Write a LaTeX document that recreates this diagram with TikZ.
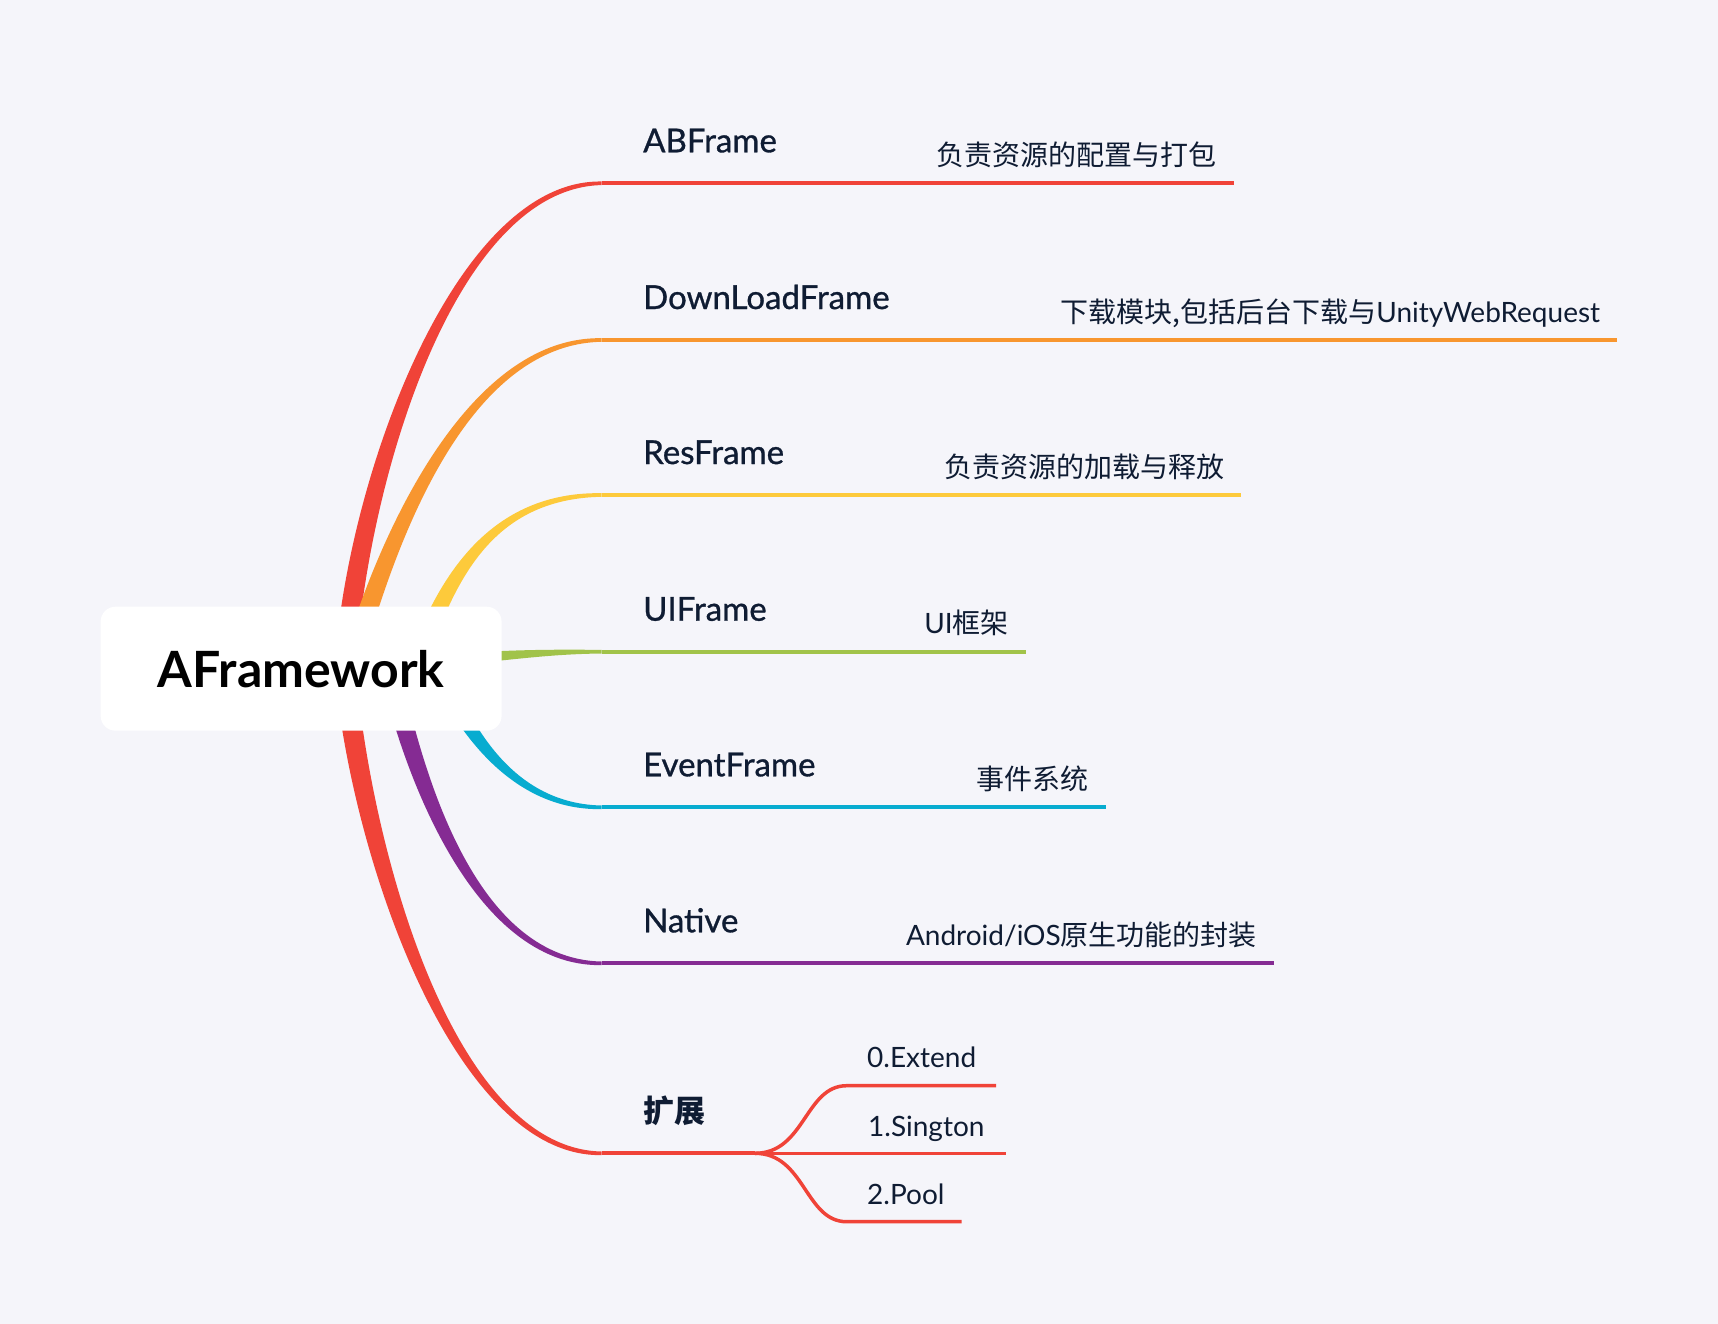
\documentclass[tikz,border=0pt]{standalone}
\usepackage{fontspec}
\setmainfont{Lato}
\newfontfamily\cjk{Noto Sans CJK SC}
\newfontfamily\titlefont[FakeBold=0.9]{Lato}
\usetikzlibrary{calc}
\definecolor{bgc}{HTML}{F5F5FA}
\definecolor{ink}{HTML}{0F1C33}
\definecolor{cred}{HTML}{F04338}
\definecolor{corange}{HTML}{F8962F}
\definecolor{cyellow}{HTML}{FDCA3B}
\definecolor{cgreen}{HTML}{A1C34A}
\definecolor{ccyan}{HTML}{07ACD0}
\definecolor{cpurple}{HTML}{852B93}
\pgfdeclarelayer{back}
\pgfdeclarelayer{branches}
\pgfsetlayers{back,branches,main}
% tapered branch: #1 colour, #2 start, #3 ctrl1, #4 ctrl2, #5 end,
% #6 half width at start, #7 half width near end control, #8 half width at end
\newcommand\taperbranch[8]{%
  \path ($(#2)!#6!90:(#3)$) coordinate (tSp)
        ($(#2)!#6!-90:(#3)$) coordinate (tSm)
        ($(#5)!#7!-90:(#4)$) coordinate (tCp)
        ($(#5)!#7!90:(#4)$) coordinate (tCm)
        ($(#5)!#8!-90:(#4)$) coordinate (tEp)
        ($(#5)!#8!90:(#4)$) coordinate (tEm);
  \fill[#1] (tSp) .. controls ($(#3)+(tSp)-(#2)$) and ($(#4)+(tCp)-(#5)$) .. (tEp)
    -- (tEm) .. controls ($(#4)+(tCm)-(#5)$) and ($(#3)+(tSm)-(#2)$) .. (tSm) -- cycle;
}
\tikzset{
  rootbox/.style={fill=white, rounded corners=15pt, minimum width=401pt, minimum height=124pt,
    inner sep=0pt, text=black, font=\fontsize{50}{60}\selectfont\bfseries},
  title/.style={anchor=base west, inner sep=0pt, text=ink, font=\fontsize{33}{38}\titlefont},
  desc/.style={anchor=base east, inner sep=0pt, text=ink, font=\fontsize{28}{34}\selectfont},
  subt/.style={anchor=base west, inner sep=0pt, text=ink, font=\fontsize{28}{32}\selectfont},
  hline/.style={line width=4pt},
  subline/.style={line width=3.5pt, cred},
}
\begin{document}
\begin{tikzpicture}[x=1pt,y=-1pt]
\begin{pgfonlayer}{back}
\fill[bgc] (0,0) rectangle (1718,1324);
\end{pgfonlayer}
\useasboundingbox (0,0) rectangle (1718,1324);

% root
\node[rootbox] (root) at (301.1,668.7) {AFramework};

% branch geometry
\coordinate (sAB) at (345,669);  \coordinate (aAB) at (357,480);  \coordinate (bAB) at (455,183.3);  \coordinate (eAB) at (601.7,183.3); \coordinate (lAB) at (1233.8,183.3);
\coordinate (sDL) at (350,669);  \coordinate (aDL) at (380,560);  \coordinate (bDL) at (460,340);    \coordinate (eDL) at (601.7,340);   \coordinate (lDL) at (1617.3,340);
\coordinate (sRS) at (415,669);  \coordinate (aRS) at (445,580);  \coordinate (bRS) at (490,495);    \coordinate (eRS) at (601.7,495);   \coordinate (lRS) at (1241.4,495);
\coordinate (sUI) at (420,662);  \coordinate (aUI) at (500,656);  \coordinate (bUI) at (540,651.7);  \coordinate (eUI) at (601.7,651.7); \coordinate (lUI) at (1026,651.7);
\coordinate (sEV) at (438,669);  \coordinate (aEV) at (455,705);  \coordinate (bEV) at (500,807.3);  \coordinate (eEV) at (601.7,807.3); \coordinate (lEV) at (1106,807.3);
\coordinate (sNA) at (390,669);  \coordinate (aNA) at (410,760);  \coordinate (bNA) at (470,963.3);  \coordinate (eNA) at (601.7,963.3); \coordinate (lNA) at (1274,963.3);
\coordinate (sKZ) at (345,669);  \coordinate (aKZ) at (362,858);  \coordinate (bKZ) at (455,1153.3); \coordinate (eKZ) at (601.7,1153.3);
\coordinate (xs) at (755,1153.3);
\coordinate (x0) at (846.7,1085.7); \coordinate (x0e) at (996,1085.7);
\coordinate (x1e) at (1006,1153.3);
\coordinate (x2) at (846.7,1221.7); \coordinate (x2e) at (961.7,1221.7);

\begin{pgfonlayer}{branches}
\taperbranch{cred}{sAB}{aAB}{bAB}{eAB}{10.5pt}{4.5pt}{1.8pt}
\taperbranch{corange}{sDL}{aDL}{bDL}{eDL}{10pt}{4.2pt}{1.8pt}
\taperbranch{cyellow}{sRS}{aRS}{bRS}{eRS}{9pt}{3.8pt}{1.8pt}
\taperbranch{cgreen}{sUI}{aUI}{bUI}{eUI}{6pt}{2.5pt}{1.8pt}
\taperbranch{ccyan}{sEV}{aEV}{bEV}{eEV}{9pt}{3.8pt}{1.8pt}
\taperbranch{cpurple}{sNA}{aNA}{bNA}{eNA}{10pt}{4.2pt}{1.8pt}
\taperbranch{cred}{sKZ}{aKZ}{bKZ}{eKZ}{10.5pt}{4.5pt}{1.8pt}
\draw[hline, cred] (eAB) -- (lAB);
\draw[hline, corange] (eDL) -- (lDL);
\draw[hline, cyellow] (eRS) -- (lRS);
\draw[hline, cgreen] (eUI) -- (lUI);
\draw[hline, ccyan] (eEV) -- (lEV);
\draw[hline, cpurple] (eNA) -- (lNA);
\draw[hline, cred] (eKZ) -- (xs);
\draw[subline] (xs) .. controls (805,1153.3) and (805,1085.7) .. (x0) -- (x0e);
\draw[subline] (xs) -- (x1e);
\draw[subline] (xs) .. controls (805,1153.3) and (805,1221.7) .. (x2) -- (x2e);
\end{pgfonlayer}

% titles
\node[title] (tAB) at ($(eAB)+(41.3,-31)$) {ABFrame};
\node[title] (tDL) at ($(eDL)+(41.3,-31)$) {DownLoadFrame};
\node[title] (tRS) at ($(eRS)+(41.3,-31)$) {ResFrame};
\node[title] (tUI) at ($(eUI)+(41.3,-31)$) {UIFrame};
\node[title] (tEV) at ($(eEV)+(41.3,-31)$) {EventFrame};
\node[title] (tNA) at ($(eNA)+(41.3,-31)$) {Native};
\node[title, font=\fontsize{31}{36}\selectfont\cjk\bfseries] (tKZ) at ($(eKZ)+(41.3,-31)$) {扩展};

% descriptions
\node[desc] (dAB) at ($(lAB)+(-17,-18)$) {\cjk 负责资源的配置与打包};
\node[desc] (dDL) at ($(lDL)+(-17,-18)$) {{\cjk 下载模块,包括后台下载与}UnityWebRequest};
\node[desc] (dRS) at ($(lRS)+(-17,-18)$) {\cjk 负责资源的加载与释放};
\node[desc] (dUI) at ($(lUI)+(-17,-18)$) {UI{\cjk 框架}};
\node[desc] (dEV) at ($(lEV)+(-17,-18)$) {\cjk 事件系统};
\node[desc] (dNA) at ($(lNA)+(-17,-18)$) {Android/iOS{\cjk 原生功能的封装}};

% sub-branch texts
\node[subt] (s0) at ($(x0)+(20.3,-18)$) {0.Extend};
\node[subt] (s1) at (868,1136) {1.Sington};
\node[subt] (s2) at ($(x2)+(20.3,-17.7)$) {2.Pool};
\end{tikzpicture}
\end{document}
